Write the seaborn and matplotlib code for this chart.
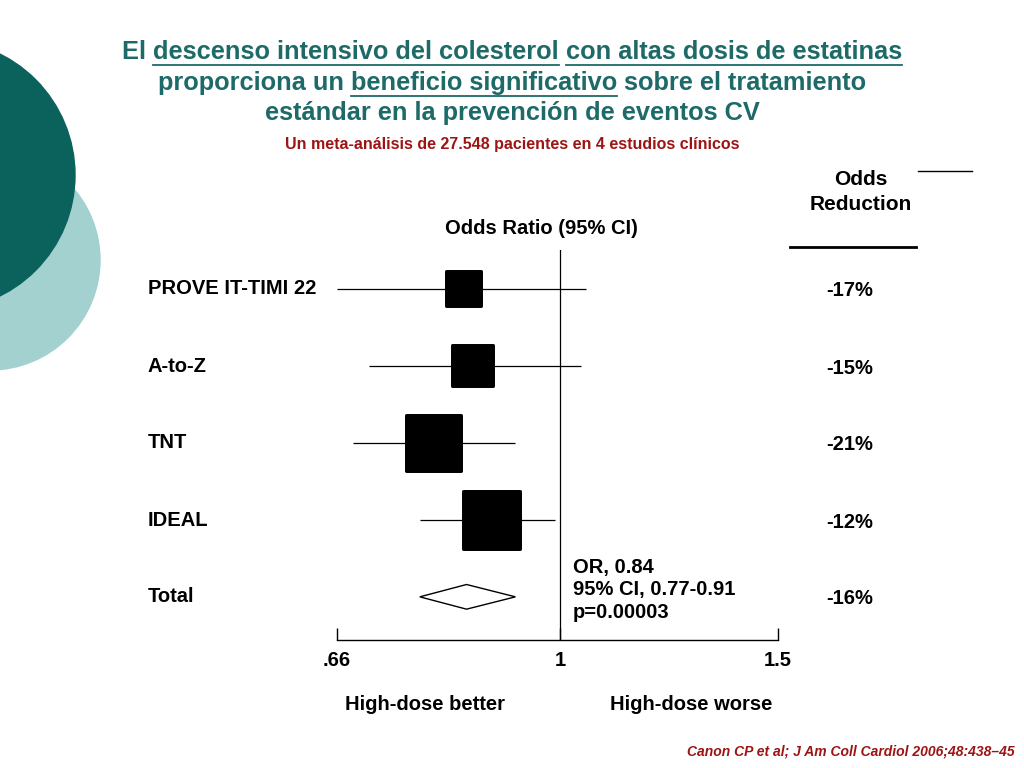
import numpy as np
import pandas as pd
import matplotlib
matplotlib.use("Agg")
import matplotlib.pyplot as plt
from matplotlib.patches import Circle
import seaborn as sns

# %% Data
studies = ["PROVE IT-TIMI 22", "A-to-Z", "TNT", "IDEAL"]
odds_ratio = [0.835, 0.85, 0.79, 0.88]
ci_low = [0.66, 0.70, 0.68, 0.77]
ci_high = [1.05, 1.04, 0.92, 0.99]
box_px = [38, 44, 60, 62]
reductions = ["-17%", "-15%", "-21%", "-12%", "-16%"]
total_or, total_low, total_high = 0.84, 0.77, 0.92
xticks = [0.66, 1, 1.5]
xtick_labels = [".66", "1", "1.5"]

W, H = 1024, 768
TEAL = "#1d6a68"
FS = 14.5
plt.rcParams["font.family"] = "Liberation Sans"
plt.rcParams["font.weight"] = "bold"

fig = plt.figure(figsize=(W / 100, H / 100), dpi=100)
fig.patch.set_facecolor("white")

# %% Decorative circles
fig.patches.append(Circle((-10, H - 260), 110, transform=None, color="#a3d1cf", zorder=0))
fig.patches.append(Circle((-60, H - 175), 135, transform=None, color="#0b615c", zorder=1))

# %% Title with underlined segments
title_lines = [
    [("El ", False), ("descenso intensivo del colesterol", True), (" ", False),
     ("con altas dosis de estatinas", True)],
    [("proporciona un ", False), ("beneficio significativo", True), (" sobre el tratamiento", False)],
    [("estándar en la prevención de eventos CV", False)],
]
line_y = [52, 83, 113]
renderer = fig.canvas.get_renderer()
for segs, py in zip(title_lines, line_y):
    texts = []
    for s, u in segs:
        t = fig.text(0, 1 - py / H, s, fontsize=18.3, color=TEAL, va="center", ha="left")
        texts.append((t, u))
    widths = [t.get_window_extent(renderer).width for t, _ in texts]
    x = 512 - sum(widths) / 2
    for (t, u), w in zip(texts, widths):
        t.set_x(x / W)
        if u and t.get_text().strip():
            fig.add_artist(plt.Line2D([x / W, (x + w) / W], [1 - (py + 13) / H] * 2,
                                      color=TEAL, lw=1.3))
        x += w
fig.text(512 / W, 1 - 145 / H, "Un meta-análisis de 27.548 pacientes en 4 estudios clínicos",
         fontsize=11.5, color="#9c1414", ha="center", va="center")

# %% Forest plot axes
ax = fig.add_axes([337 / W, 1 - 640 / H, (778 - 337) / W, (640 - 250) / H])
ax.set_xscale("log")
ax.set_xlim(0.66, 1.5)
ax.set_ylim(4.56, -0.5)
rows = np.arange(len(studies))
df = pd.DataFrame({"study": studies, "or": odds_ratio, "row": rows})

ax.hlines(rows, ci_low, ci_high, color="black", lw=0.9)
sns.scatterplot(data=df, x="or", y="row", marker="s", color="black",
                s=[(b * 0.67) ** 2 for b in box_px], edgecolor="black", ax=ax, legend=False, zorder=3)
ax.fill([total_low, total_or, total_high, total_or], [4, 3.84, 4, 4.16],
        facecolor="white", edgecolor="black", lw=1, zorder=3)
ax.axvline(1, color="black", lw=0.9)

for sp in ["top", "right", "left"]:
    ax.spines[sp].set_visible(False)
ax.spines["bottom"].set_linewidth(1)
ax.set_yticks([])
ax.set_xticks(xticks)
ax.set_xticklabels(xtick_labels, fontsize=FS)
ax.xaxis.set_minor_locator(matplotlib.ticker.NullLocator())
ax.tick_params(axis="x", direction="in", length=9, width=1, pad=8)
ax.set_xlabel("")
ax.set_ylabel("")
ax.patch.set_alpha(0)

# %% Labels around the plot
for i, name in enumerate(studies + ["Total"]):
    fig.text(148 / W, 1 - (289 + 77 * i) / H, name, fontsize=FS, va="center", ha="left")
for i, r in enumerate(reductions):
    fig.text(850 / W, 1 - (291 + 77 * i) / H, r, fontsize=FS, va="center", ha="center")
fig.text(541 / W, 1 - 228 / H, "Odds Ratio (95% CI)", fontsize=FS, ha="center", va="center")
fig.text(861 / W, 1 - 192 / H, "Odds\nReduction", fontsize=15, ha="center", va="center",
         linespacing=1.4)
fig.add_artist(plt.Line2D([918 / W, 972 / W], [1 - 171 / H] * 2, color="black", lw=1))
fig.add_artist(plt.Line2D([790 / W, 916 / W], [1 - 247 / H] * 2, color="black", lw=2))
fig.text(573 / W, 1 - 590 / H, "OR, 0.84\n95% CI, 0.77-0.91\np=0.00003", fontsize=FS,
         ha="left", va="center", linespacing=1.25)
fig.text(425 / W, 1 - 705 / H, "High-dose better", fontsize=FS, ha="center", va="center")
fig.text(691 / W, 1 - 705 / H, "High-dose worse", fontsize=FS, ha="center", va="center")
fig.text(1015 / W, 1 - 752 / H, "Canon CP et al; J Am Coll Cardiol 2006;48:438–45",
         fontsize=10, color="#9c1414", style="italic", ha="right", va="center")

fig.savefig("out.png", dpi=100)
